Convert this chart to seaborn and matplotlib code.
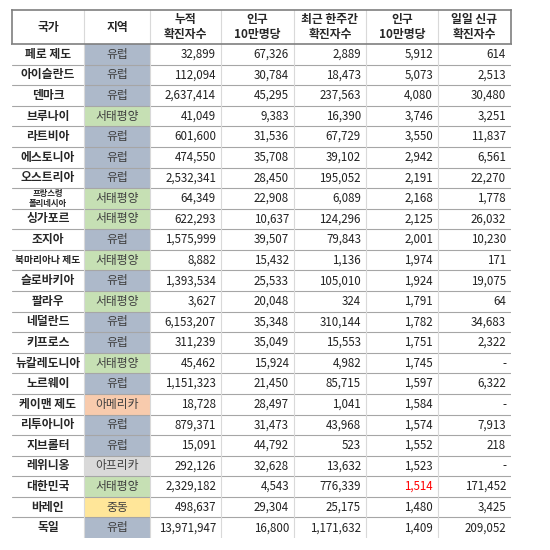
import numpy as np
import matplotlib
matplotlib.use("Agg")
import matplotlib.pyplot as plt
import seaborn as sns
from matplotlib.colors import ListedColormap

sns.set_theme(style="white")
plt.rcParams['font.family'] = ['Noto Sans CJK KR', 'DejaVu Sans']

headers = ["국가", "지역", "누적\n확진자수", "인구\n10만명당", "최근 한주간\n확진자수", "인구\n10만명당", "일일 신규\n확진자수"]
countries = ["페로 제도", "아이슬란드", "덴마크", "브루나이", "라트비아", "에스토니아", "오스트리아",
             "프랑스령\n폴리네시아", "싱가포르", "조지아", "북마리아나 제도", "슬로바키아", "팔라우", "네덜란드",
             "키프로스", "뉴칼레도니아", "노르웨이", "케이맨 제도", "리투아니아", "지브롤터", "레위니옹",
             "대한민국", "바레인", "독일"]
regions = ["유럽", "유럽", "유럽", "서태평양", "유럽", "유럽", "유럽", "서태평양", "서태평양", "유럽",
           "서태평양", "유럽", "서태평양", "유럽", "유럽", "서태평양", "유럽", "아메리카", "유럽", "유럽",
           "아프리카", "서태평양", "중동", "유럽"]
total_cases = [32899, 112094, 2637414, 41049, 601600, 474550, 2532341, 64349, 622293, 1575999, 8882,
               1393534, 3627, 6153207, 311239, 45462, 1151323, 18728, 879371, 15091, 292126, 2329182,
               498637, 13971947]
total_per100k = [67326, 30784, 45295, 9383, 31536, 35708, 28450, 22908, 10637, 39507, 15432, 25533,
                 20048, 35348, 35049, 15924, 21450, 28497, 31473, 44792, 32628, 4543, 29304, 16800]
week_cases = [2889, 18473, 237563, 16390, 67729, 39102, 195052, 6089, 124296, 79843, 1136, 105010, 324,
              310144, 15553, 4982, 85715, 1041, 43968, 523, 13632, 776339, 25175, 1171632]
week_per100k = [5912, 5073, 4080, 3746, 3550, 2942, 2191, 2168, 2125, 2001, 1974, 1924, 1791, 1782,
                1751, 1745, 1597, 1584, 1574, 1552, 1523, 1514, 1480, 1409]
daily_new = [614, 2513, 30480, 3251, 11837, 6561, 22270, 1778, 26032, 10230, 171, 19075, 64, 34683,
             2322, None, 6322, None, 7913, 218, None, 171452, 3425, 209052]

region_colors = {"유럽": "#adb9ca", "서태평양": "#c6e0b4", "아메리카": "#f8cbad",
                 "아프리카": "#d9d9d9", "중동": "#ffe699"}
palette = ["#ffffff"] + list(region_colors.values())
codes = {k: i + 1 for i, k in enumerate(region_colors)}

n = len(countries)
grid = np.zeros((n, 7))
for i, r in enumerate(regions):
    grid[i, 1] = codes[r]

col_px = [12, 84, 150, 221, 294, 366, 438, 511]
widths = np.diff(col_px)
W = 550
fig = plt.figure(figsize=(5.5, 5.5), dpi=100)
left = col_px[0] / W
width = (col_px[-1] - col_px[0]) / W

ax_h = fig.add_axes([left, 1 - 44 / W, width, 34 / W])
ax = fig.add_axes([left, 1 - 538 / W, width, 494 / W])

xe = np.concatenate([[0], np.cumsum(widths)])

for a in (ax_h, ax):
    a.set_xlim(0, xe[-1])
    for s in a.spines.values():
        s.set_color("#7f7f7f")
        s.set_linewidth(1.2)
    a.set_xticks([])
    a.set_yticks([])

# cell backgrounds via seaborn heatmap on a pixel-wide mesh
mesh_x = np.repeat(np.arange(7), widths)
big = grid[:, mesh_x]
sns.heatmap(big, ax=ax, cmap=ListedColormap(palette), vmin=-0.5, vmax=len(palette) - 0.5,
            cbar=False, xticklabels=False, yticklabels=False)
ax.set_xlim(0, xe[-1])
ax.set_ylim(n, 0)
for i in range(1, n):
    ax.axhline(i, color="#a6a6a6", lw=0.8)
for x in xe[1:-1]:
    ax.axvline(x, color="#d9d9d9", lw=0.8)
    ax_h.axvline(x, color="#d9d9d9", lw=0.8)
ax.axhline(0, color="#7f7f7f", lw=1.2)

ax_h.set_ylim(1, 0)
for j, h in enumerate(headers):
    ax_h.text((xe[j] + xe[j + 1]) / 2, 0.5, h, ha="center", va="center",
              fontsize=8.5, fontweight="bold", linespacing=1.15)

numeric = [total_cases, total_per100k, week_cases, week_per100k, daily_new]
for i in range(n):
    c = countries[i]
    fs = 8.5
    if "\n" in c:
        fs = 6
    elif len(c) > 6:
        fs = 7
    ax.text((xe[0] + xe[1]) / 2, i + 0.5, c, ha="center", va="center", fontsize=fs,
            fontweight="bold", linespacing=1.05)
    ax.text((xe[1] + xe[2]) / 2, i + 0.5, regions[i], ha="center", va="center", fontsize=8.5,
            color="#404040")
    for k, col in enumerate(numeric):
        v = col[i]
        s = "-" if v is None else f"{v:,}"
        color = "#ff0000" if (k == 3 and countries[i] == "대한민국") else "#222222"
        ax.text(xe[k + 3] - 5, i + 0.5, s, ha="right", va="center", fontsize=8.3, color=color)

fig.savefig("out.png", dpi=100, facecolor="white")
